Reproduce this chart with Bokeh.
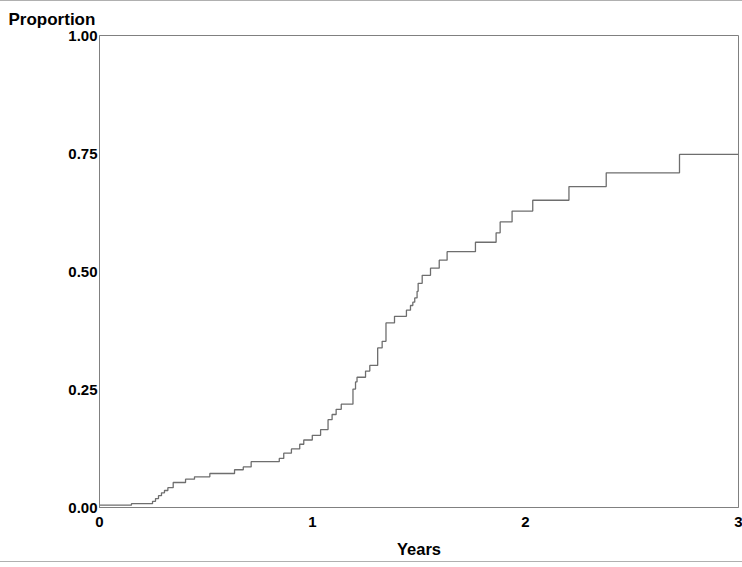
from bokeh.plotting import figure
from bokeh.models import Range1d, FixedTicker, PrintfTickFormatter, Title
from bokeh.embed import file_html
from bokeh.resources import INLINE

# Step times (years) and cumulative proportion after each step
times = [0.0, 0.150, 0.249, 0.263, 0.277, 0.291, 0.305, 0.321, 0.346, 0.404, 0.446,
         0.518, 0.634, 0.675, 0.712, 0.844, 0.865, 0.901, 0.940, 0.959, 0.999,
         1.038, 1.073, 1.092, 1.111, 1.135, 1.190, 1.202, 1.209, 1.249, 1.269,
         1.306, 1.327, 1.345, 1.385, 1.441, 1.460, 1.471, 1.480, 1.491, 1.496,
         1.515, 1.554, 1.595, 1.632, 1.765, 1.862, 1.881, 1.937, 2.034, 2.204,
         2.379, 2.723, 3.0]
proportion = [0.005, 0.008, 0.013, 0.019, 0.025, 0.031, 0.036, 0.042, 0.053, 0.060, 0.065,
              0.072, 0.080, 0.086, 0.097, 0.104, 0.115, 0.124, 0.134, 0.143, 0.153,
              0.165, 0.186, 0.197, 0.208, 0.219, 0.251, 0.266, 0.276, 0.289, 0.301,
              0.338, 0.352, 0.391, 0.405, 0.418, 0.428, 0.435, 0.444, 0.458, 0.475,
              0.492, 0.507, 0.524, 0.542, 0.562, 0.582, 0.605, 0.628, 0.651, 0.680,
              0.709, 0.748, 0.748]

x_ticks = [0, 1, 2, 3]
y_ticks = [0.0, 0.25, 0.5, 0.75, 1.0]

FONT = "Liberation Sans"

p = figure(width=742, height=562, output_backend="svg", toolbar_location=None,
           x_range=Range1d(0, 3), y_range=Range1d(0, 1),
           min_border_left=99, min_border_right=4, min_border_top=32, min_border_bottom=56)

p.step(times, proportion, mode="after", line_color="#6e6e6e", line_width=1.3)

p.grid.visible = False
p.outline_line_color = "#808080"
p.outline_line_width = 1

for ax in (p.xaxis, p.yaxis):
    ax.axis_line_color = "#808080"
    ax.major_tick_line_color = None
    ax.minor_tick_line_color = None
    ax.major_tick_out = 0
    ax.major_tick_in = 0
    ax.major_label_text_font = FONT
    ax.major_label_text_font_style = "bold"
    ax.major_label_text_font_size = "15px"
    ax.major_label_text_color = "black"

p.xaxis.ticker = FixedTicker(ticks=x_ticks)
p.xaxis.formatter = PrintfTickFormatter(format="%d")
p.xaxis.major_label_standoff = 9
p.xaxis.axis_label = "Years"
p.xaxis.axis_label_text_font = FONT
p.xaxis.axis_label_text_font_style = "bold"
p.xaxis.axis_label_text_font_size = "16.5px"
p.xaxis.axis_label_text_color = "black"
p.xaxis.axis_label_standoff = 10

p.yaxis.ticker = FixedTicker(ticks=y_ticks)
p.yaxis.formatter = PrintfTickFormatter(format="%.2f")
p.yaxis.major_label_standoff = 2

title = Title(text="Proportion", align="left", offset=-91, text_font=FONT,
              text_font_style="bold", text_font_size="17px", text_color="black",
              standoff=13)
p.add_layout(title, "above")

p.styles = {"border-top": "1px solid #b0b0b0", "border-bottom": "1px solid #b0b0b0"}

open("out.html", "w").write(file_html(p, INLINE))
